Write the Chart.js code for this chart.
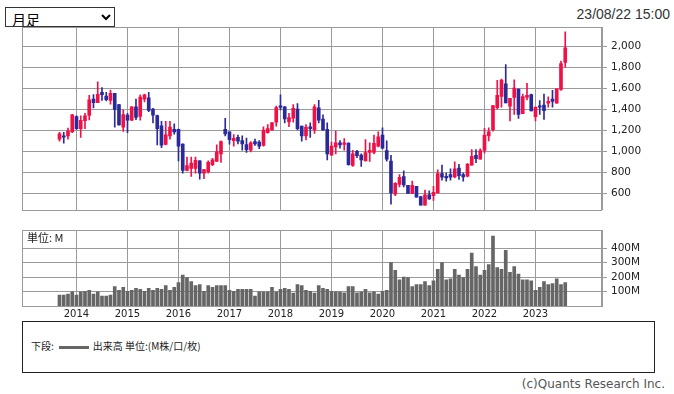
<!DOCTYPE html>
<html>
<head>
<meta charset="utf-8">
<script src="https://cdn.jsdelivr.net/npm/chart.js@4.4.0/dist/chart.umd.min.js"></script>
<style>
  body { margin: 0; width: 674px; height: 394px; background: #fff; position: relative; overflow: hidden; }
  #period { position: absolute; left: 5px; top: 7px; width: 110px; height: 20px; font-size: 14px; font-family: "Noto Sans CJK JP", sans-serif; background: #fff; color: #000; border: 1px solid #333; padding: 0 2px; }
  #stamp { position: absolute; right: 4px; top: 6px; font: 14px "Liberation Sans", Arial, sans-serif; color: #333; }
  #c1 { position: absolute; left: 0; top: 0; }
  #c2 { position: absolute; left: 0; top: 220px; }
  #unit { position: absolute; left: 27px; top: 229px; font: 11px "Noto Sans CJK JP", sans-serif; color: #222; }
  #legend { position: absolute; left: 22px; top: 321px; width: 633px; height: 52px; box-sizing: border-box; border: 1px solid #222; font: 10px "Noto Sans CJK JP", sans-serif; color: #222; }
  #legend .row { position: absolute; left: 8px; top: 16px; white-space: nowrap; }
  #legend .swatch { display: inline-block; width: 30px; height: 3px; background: #666; vertical-align: middle; margin: 0 4px 0 5px; }
  #copy { position: absolute; right: 9px; top: 377px; font: 12px "DejaVu Sans", sans-serif; color: #555; }
</style>
</head>
<body>
<select id="period"><option>月足</option></select>
<div id="stamp">23/08/22 15:00</div>
<canvas id="c1" width="674" height="220"></canvas>
<canvas id="c2" width="674" height="100"></canvas>
<div id="unit">単位: M</div>
<div id="legend"><div class="row">下段:<span class="swatch"></span>出来高 単位:(M株/口/枚)</div></div>
<div id="copy">(c)Quants Research Inc.</div>
<script>
// monthly candles, Sep 2013 .. Aug 2023
const months = [
  "2013/09","2013/10","2013/11","2013/12",
  "2014/01","2014/02","2014/03","2014/04","2014/05","2014/06","2014/07","2014/08","2014/09","2014/10","2014/11","2014/12",
  "2015/01","2015/02","2015/03","2015/04","2015/05","2015/06","2015/07","2015/08","2015/09","2015/10","2015/11","2015/12",
  "2016/01","2016/02","2016/03","2016/04","2016/05","2016/06","2016/07","2016/08","2016/09","2016/10","2016/11","2016/12",
  "2017/01","2017/02","2017/03","2017/04","2017/05","2017/06","2017/07","2017/08","2017/09","2017/10","2017/11","2017/12",
  "2018/01","2018/02","2018/03","2018/04","2018/05","2018/06","2018/07","2018/08","2018/09","2018/10","2018/11","2018/12",
  "2019/01","2019/02","2019/03","2019/04","2019/05","2019/06","2019/07","2019/08","2019/09","2019/10","2019/11","2019/12",
  "2020/01","2020/02","2020/03","2020/04","2020/05","2020/06","2020/07","2020/08","2020/09","2020/10","2020/11","2020/12",
  "2021/01","2021/02","2021/03","2021/04","2021/05","2021/06","2021/07","2021/08","2021/09","2021/10","2021/11","2021/12",
  "2022/01","2022/02","2022/03","2022/04","2022/05","2022/06","2022/07","2022/08","2022/09","2022/10","2022/11","2022/12",
  "2023/01","2023/02","2023/03","2023/04","2023/05","2023/06","2023/07","2023/08"
];
const open = [
  1118,1149,1149,1186,
  1333,1217,1293,1343,1499,1465,1564,1527,1487,1554,1447,1232,
  1346,1297,1425,1333,1499,1511,1404,1343,1244,1066,1149,1211,
  1211,1069,818,839,839,910,793,808,873,904,977,1211,
  1186,1103,1134,1103,1066,1011,1094,1088,1057,1180,1204,1278,
  1435,1425,1281,1318,1404,1241,1149,1235,1204,1416,1309,1211,
  965,1042,1082,1066,1079,867,1002,965,910,990,990,1051,
  1156,1009,907,591,686,760,677,600,668,570,487,585,
  579,603,788,763,778,757,840,778,763,870,963,926,
  1009,1147,1208,1417,1524,1644,1432,1515,1592,1359,1515,1543,
  1331,1435,1441,1460,1500,1460,1592,1850
];
const high = [
  1183,1183,1223,1355,
  1340,1340,1364,1536,1542,1665,1610,1564,1585,1554,1450,1395,
  1364,1428,1499,1539,1548,1564,1410,1346,1287,1287,1287,1263,
  1214,1072,947,947,947,913,830,910,934,1063,1100,1315,
  1186,1161,1155,1149,1128,1094,1118,1103,1235,1257,1278,1432,
  1539,1428,1364,1447,1456,1241,1257,1272,1447,1487,1349,1272,
  1088,1195,1103,1122,1082,1011,1011,977,1112,1082,1155,1186,
  1224,1101,963,702,778,815,677,717,668,570,631,625,
  668,824,870,794,834,901,877,794,886,1018,1018,1024,
  1221,1224,1438,1678,1690,1828,1506,1684,1600,1546,1650,1546,
  1423,1484,1546,1521,1583,1598,1862,2141
];
const low = [
  1097,1079,1118,1180,
  1210,1134,1217,1300,1416,1465,1487,1481,1450,1232,1250,1192,
  1180,1293,1303,1297,1472,1379,1272,1063,1036,1063,1118,1165,
  910,793,815,762,793,735,741,793,864,904,894,1149,
  1069,1051,1072,1011,990,996,1057,1026,1051,1174,1200,1241,
  1395,1272,1235,1278,1204,1097,1109,1134,1171,1272,1201,919,
  965,977,1032,1011,870,858,940,858,910,904,977,1042,
  1024,907,496,579,662,662,600,600,564,487,487,542,
  533,603,726,717,726,748,732,717,757,870,892,926,
  984,1101,1193,1405,1423,1463,1291,1352,1316,1359,1491,1386,
  1291,1352,1306,1423,1423,1460,1583,1804
];
const close = [
  1168,1137,1195,1349,
  1217,1297,1340,1493,1465,1545,1542,1493,1554,1401,1254,1352,
  1297,1425,1324,1518,1539,1392,1346,1217,1060,1158,1232,1186,
  1051,818,864,888,916,793,827,897,919,996,1094,1168,
  1112,1125,1097,1072,1017,1082,1072,1051,1204,1217,1272,1419,
  1419,1309,1324,1410,1217,1149,1232,1217,1425,1297,1204,977,
  1051,1082,1063,1082,873,977,959,919,990,1011,1076,1140,
  1030,926,603,695,754,680,600,677,564,487,585,548,
  610,788,754,748,754,834,769,757,877,953,932,1009,
  1156,1187,1438,1534,1681,1463,1506,1604,1352,1524,1534,1386,
  1423,1423,1389,1478,1478,1598,1838,1988
];
// volume, millions
const volume = [
  76,76,82,98,
  76,98,102,109,82,98,69,69,76,135,109,129,
  102,109,122,115,102,122,109,122,115,141,109,129,
  161,214,196,168,141,148,102,141,129,141,141,141,
  109,102,115,115,115,115,69,98,98,98,129,98,
  115,122,115,89,148,141,109,102,89,141,122,115,
  102,98,98,91,135,135,91,98,115,91,98,82,
  102,109,300,247,181,200,196,135,148,148,168,141,
  174,253,300,181,187,253,214,196,253,365,273,214,
  247,286,483,266,253,385,233,273,220,181,181,174,
  109,129,168,148,155,187,148,161
];
const yearLabels = ["2014","2015","2016","2017","2018","2019","2020","2021","2022","2023"];
const priceTicks = [600, 800, 1000, 1200, 1400, 1600, 1800, 2000];
const volumeTicks = [100, 200, 300, 400];

const UP = "#ee1248";
const DOWN = "#2b2a99";
const GRID = "#9a9a9a";
const TEXT = "#222";

// month index, Jan 2014 = 0
function monthIndex(s) {
  const p = s.split("/");
  return (parseInt(p[0]) - 2014) * 12 + parseInt(p[1]) - 1;
}
const xs = months.map(monthIndex);
const colors = months.map((m, i) => close[i] >= open[i] ? UP : DOWN);
const yearX = yearLabels.map(y => (parseInt(y) - 2014) * 12);

const X_MIN = -12.82, X_MAX = 123.65;

const frame = {
  id: "frame",
  beforeDatasetsDraw(chart) {
    const a = chart.chartArea, ctx = chart.ctx;
    ctx.save();
    ctx.strokeStyle = GRID;
    ctx.lineWidth = 1;
    ctx.strokeRect(Math.round(a.left) + 0.5, Math.round(a.top) + 0.5,
      Math.round(a.right - a.left) - 1, Math.round(a.bottom - a.top));
    ctx.restore();
  }
};

function xAxis(showLabels) {
  return {
    type: "linear",
    min: X_MIN,
    max: X_MAX,
    offset: false,
    afterBuildTicks: s => { s.ticks = yearX.map(v => ({ value: v })); },
    afterFit: s => { s.height = showLabels ? 14 : 0; },
    grid: { color: GRID, drawTicks: false, offset: false },
    border: { display: showLabels, color: GRID },
    ticks: {
      display: showLabels,
      padding: 2,
      maxRotation: 0,
      autoSkip: false,
      color: TEXT,
      font: { family: "DejaVu Sans", size: 10 },
      callback: (v) => yearLabels[yearX.indexOf(v)]
    }
  };
}

const ctx1 = document.getElementById("c1").getContext("2d");
const chart_price = new Chart(ctx1, {
  type: "bar",
  data: {
    datasets: [
      {
        label: "wick",
        data: xs.map((x, i) => ({ x: x, y: [low[i], high[i]] })),
        backgroundColor: colors,
        barThickness: 1,
        grouped: false,
        minBarLength: 1
      },
      {
        label: "body",
        data: xs.map((x, i) => ({ x: x, y: [open[i], close[i]] })),
        backgroundColor: colors,
        barThickness: 3,
        grouped: false,
        minBarLength: 1
      }
    ]
  },
  options: {
    responsive: false,
    animation: false,
    devicePixelRatio: 1,
    layout: { padding: { top: 27, left: 22, right: 0, bottom: 4 } },
    plugins: { legend: { display: false }, tooltip: { enabled: false } },
    scales: {
      x: xAxis(false),
      y: {
        position: "right",
        min: 444,
        max: 2187,
        afterBuildTicks: s => { s.ticks = priceTicks.map(v => ({ value: v })); },
        afterFit: s => { s.width = 72; },
        grid: { color: GRID, tickLength: 5 },
        border: { color: GRID },
        ticks: {
          padding: 4,
          color: TEXT,
          font: { family: "DejaVu Sans", size: 10.5 },
          callback: v => v.toLocaleString("en-US")
        }
      }
    }
  },
  plugins: [frame]
});

const ctx2 = document.getElementById("c2").getContext("2d");
const chart_vol = new Chart(ctx2, {
  type: "bar",
  data: {
    datasets: [
      {
        label: "出来高",
        data: xs.map((x, i) => ({ x: x, y: volume[i] })),
        backgroundColor: "#666",
        barThickness: 3
      }
    ]
  },
  options: {
    responsive: false,
    animation: false,
    devicePixelRatio: 1,
    layout: { padding: { top: 7, left: 22, right: 0, bottom: 0 } },
    plugins: { legend: { display: false }, tooltip: { enabled: false } },
    scales: {
      x: xAxis(true),
      y: {
        position: "right",
        min: 0,
        max: 523,
        afterBuildTicks: s => { s.ticks = volumeTicks.map(v => ({ value: v })); },
        afterFit: s => { s.width = 72; },
        grid: { color: GRID, tickLength: 5 },
        border: { color: GRID },
        ticks: {
          padding: 4,
          color: TEXT,
          font: { family: "DejaVu Sans", size: 10.5 },
          callback: v => v + "M"
        }
      }
    }
  },
  plugins: [frame]
});
</script>
</body>
</html>
